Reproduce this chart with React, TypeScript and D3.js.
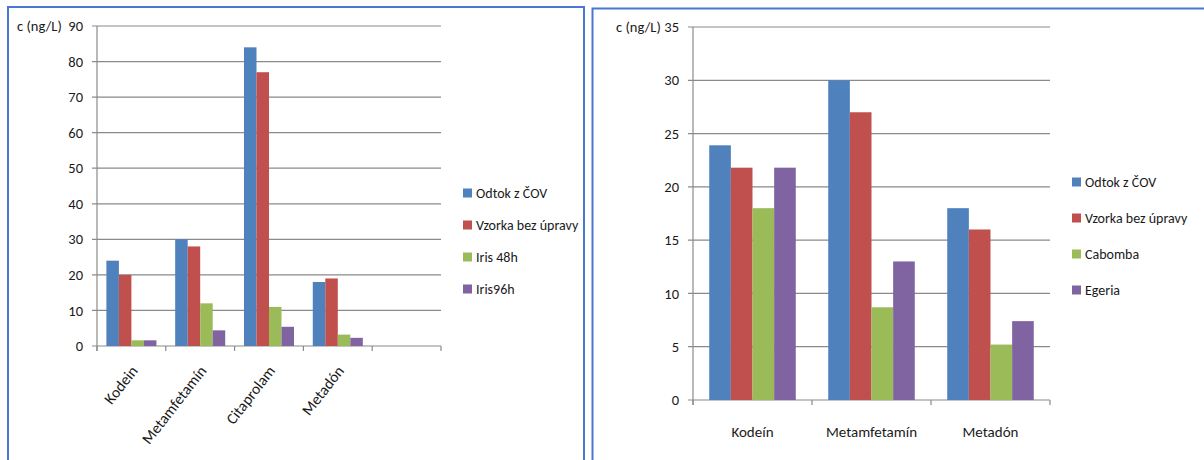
import React from "react";
import * as d3 from "d3";

const leftCategories = ["Kodein", "Metamfetamín", "Citaprolam", "Metadón", ""];
const leftSeries = ["Odtok z ČOV", "Vzorka bez úpravy", "Iris 48h", "Iris96h"];
const leftOdtok = [24, 30, 84, 18];
const leftVzorka = [20, 28, 77, 19];
const leftIris48 = [1.6, 12, 11, 3.2];
const leftIris96 = [1.6, 4.4, 5.4, 2.3];
const leftTicks = [0, 10, 20, 30, 40, 50, 60, 70, 80, 90];

const rightCategories = ["Kodeín", "Metamfetamín", "Metadón"];
const rightSeries = ["Odtok z ČOV", "Vzorka bez úpravy", "Cabomba", "Egeria"];
const rightOdtok = [23.9, 30, 18];
const rightVzorka = [21.8, 27, 16];
const rightCabomba = [18, 8.7, 5.2];
const rightEgeria = [21.8, 13, 7.4];
const rightTicks = [0, 5, 10, 15, 20, 25, 30, 35];

const colors = ["#4F81BD", "#C0504D", "#9BBB59", "#8064A2"];
const FONT = "Carlito, Lato, 'Open Sans', sans-serif";
const GRID = "#8a8a8a";
const BORDER = "#4a78cf";
const TEXT = "#1a1a1a";

type PanelProps = {
  categories: string[];
  series: string[];
  values: number[][];
  ticks: number[];
  x0: number;
  x1: number;
  yTop: number;
  yBottom: number;
  maxY: number;
  rotate: boolean;
  legendX: number;
  legendY: number;
  legendStep: number;
  titleX: number;
};

function Panel(p: PanelProps) {
  const x = d3.scaleBand<string>().domain(p.categories.map((_, i) => String(i))).range([p.x0, p.x1]).padding(0);
  const xs = d3.scaleBand<string>().domain(p.series).range([0, x.bandwidth()]).paddingInner(0).paddingOuter(0.75);
  const y = d3.scaleLinear().domain([0, p.maxY]).range([p.yBottom, p.yTop]);
  const boundaries = p.categories.map((_, i) => x(String(i)) as number).concat([p.x1]);
  return (
    <g>
      {p.ticks.map((t) => (
        <g key={"g" + t}>
          <line x1={p.x0 - 5} x2={p.x1} y1={y(t)} y2={y(t)} stroke={GRID} strokeWidth={1.2} />
          <text x={p.x0 - 14} y={y(t)} dy="0.35em" textAnchor="end" fontSize={14.5} fill={TEXT}>{t}</text>
        </g>
      ))}
      <text x={p.titleX} y={y(p.maxY)} dy="0.35em" textAnchor="start" fontSize={14.5} fill={TEXT}>c (ng/L)</text>
      <line x1={p.x0} x2={p.x0} y1={p.yTop} y2={p.yBottom + 5} stroke={GRID} strokeWidth={1.2} />
      {boundaries.map((b, i) => (
        <line key={"t" + i} x1={b} x2={b} y1={p.yBottom} y2={p.yBottom + 5} stroke={GRID} strokeWidth={1.2} />
      ))}
      {p.series.map((s, si) => (
        <g key={s}>
          {p.values[si].map((v, ci) => (
            <rect
              key={ci}
              x={(x(String(ci)) as number) + (xs(s) as number)}
              y={y(v)}
              width={xs.bandwidth()}
              height={p.yBottom - y(v)}
              fill={colors[si]}
            />
          ))}
        </g>
      ))}
      {p.categories.map((c, ci) => {
        const cx = (x(String(ci)) as number) + x.bandwidth() / 2;
        if (!c) return null;
        return p.rotate ? (
          <text key={c} transform={`translate(${cx + 7},${p.yBottom + 25}) rotate(-52)`} textAnchor="end" fontSize={15.5} fill={TEXT}>{c}</text>
        ) : (
          <text key={c} x={cx} y={p.yBottom + 37} textAnchor="middle" fontSize={15} fill={TEXT}>{c}</text>
        );
      })}
      {p.series.map((s, si) => (
        <g key={"l" + s} transform={`translate(${p.legendX},${p.legendY + si * p.legendStep})`}>
          <rect x={0} y={-4.5} width={9} height={9} fill={colors[si]} />
          <text x={13} y={0} dy="0.35em" fontSize={14} fill={TEXT}>{s}</text>
        </g>
      ))}
    </g>
  );
}

export default function App() {
  return (
    <svg width={1204} height={460} style={{ position: "absolute", left: 0, top: 0, background: "#fff" }} fontFamily={FONT}>
      <rect x={0} y={0} width={1204} height={460} fill="#fff" />
      <rect x={8} y={7} width={576} height={470} fill="none" stroke={BORDER} strokeWidth={2} />
      <rect x={592.5} y={8.5} width={640} height={470} fill="none" stroke={BORDER} strokeWidth={2} />
      <Panel
        categories={leftCategories}
        series={leftSeries}
        values={[leftOdtok, leftVzorka, leftIris48, leftIris96]}
        ticks={leftTicks}
        x0={97}
        x1={441}
        yTop={26}
        yBottom={346}
        maxY={90}
        rotate={true}
        legendX={463}
        legendY={193}
        legendStep={32}
        titleX={17}
      />
      <Panel
        categories={rightCategories}
        series={rightSeries}
        values={[rightOdtok, rightVzorka, rightCabomba, rightEgeria]}
        ticks={rightTicks}
        x0={693}
        x1={1050}
        yTop={27}
        yBottom={400}
        maxY={35}
        rotate={false}
        legendX={1072}
        legendY={182}
        legendStep={36}
        titleX={616}
      />
    </svg>
  );
}
